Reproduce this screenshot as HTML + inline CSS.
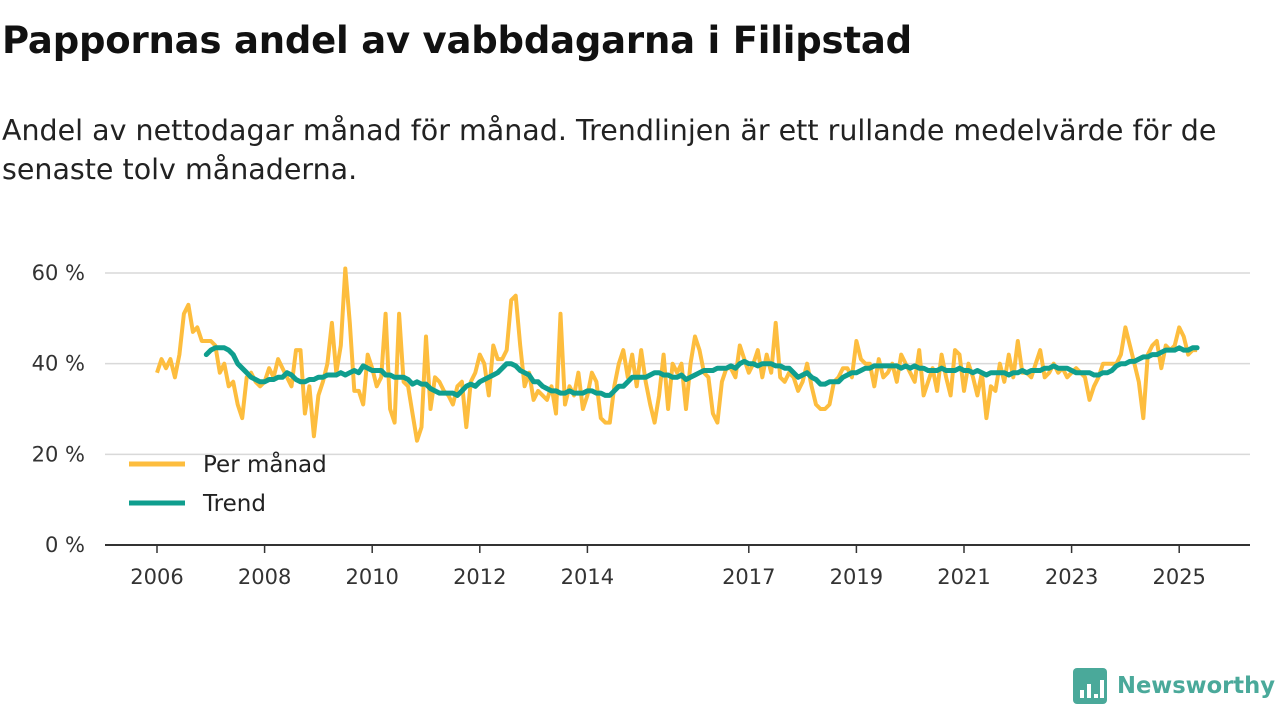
<!DOCTYPE html>
<html><head><meta charset="utf-8"><style>
body{margin:0;width:1280px;height:720px;background:#fff;font-family:"DejaVu Sans","Liberation Sans",sans-serif;overflow:hidden;position:relative;color:#111}
#title{position:absolute;left:2px;top:19px;font-size:37px;font-weight:bold;letter-spacing:-0.2px;white-space:nowrap}
#sub{position:absolute;left:2px;top:111px;font-size:28.5px;line-height:39px;color:#222;white-space:nowrap}
svg{position:absolute;left:0;top:0;font-family:"DejaVu Sans","Liberation Sans",sans-serif}
</style></head><body>
<div id="title">Pappornas andel av vabbdagarna i Filipstad</div>
<div id="sub">Andel av nettodagar månad för månad. Trendlinjen är ett rullande medelvärde för de<br>senaste tolv månaderna.</div>
<svg id="chart" width="1280" height="720"></svg>
<script>
const yTicks=[0,20,40,60];
const xTickYears=[2006,2008,2010,2012,2014,2017,2019,2021,2023,2025];
const monthly=[38,41,39,41,37,42,51,53,47,48,45,45,
45,44,38,40,35,36,31,28,37,38,36,35,
36,39,37,41,39,37,35,43,43,29,35,24,
33,36,40,49,38,44,61,49,34,34,31,42,
39,35,37,51,30,27,51,36,35,29,23,26,
46,30,37,36,34,33,31,35,36,26,36,38,
42,40,33,44,41,41,43,54,55,44,35,38,
32,34,33,32,35,29,51,31,35,33,38,30,
33,38,36,28,27,27,35,40,43,37,42,35,
43,36,31,27,33,42,30,40,38,40,30,40,
46,43,38,37,29,27,36,39,39,37,44,41,
38,40,43,37,42,38,49,37,36,38,37,34,
36,40,35,31,30,30,31,36,37,39,39,37,
45,41,40,40,35,41,37,38,40,36,42,40,
38,36,43,33,36,39,34,42,37,33,43,42,
34,40,37,33,38,28,35,34,40,36,42,37,
45,38,38,37,40,43,37,38,40,38,39,37,
38,39,38,37,32,35,37,40,40,40,40,42,
48,44,40,36,28,42,44,45,39,44,43,44,
48,46,42,43,43];
const trendStart=11;
const trend=[42,
43,43.5,43.5,43.5,43,42,40,39,38,37,36.5,36,
36,36.5,36.5,37,37,38,37.5,36.5,36,36,36.5,36.5,
37,37,37.5,37.5,37.5,38,37.5,38,38.5,38,39.5,39,
38.5,38.5,38.5,37.5,37.5,37,37,37,36.5,35.5,36,35.5,
35.5,34.5,34,33.5,33.5,33.5,33.5,33,34,35,35.5,35,
36,36.5,37,37.5,38,39,40,40,39.5,38.5,38,37.5,
36,36,35,34.5,34,34,33.5,33.5,34,33.5,33.5,33.5,
34,34,33.5,33.5,33,33,34,35,35,36,37,37,
37,37,37.5,38,38,37.5,37.5,37,37,37.5,36.5,37,
37.5,38,38.5,38.5,38.5,39,39,39,39.5,39,40,40.5,
40,40,39.5,40,40,40,39.5,39.5,39,39,38,37,
37.5,38,37,36.5,35.5,35.5,36,36,36,37,37.5,38,
38,38.5,39,39,39.5,39.5,39.5,39.5,39.5,39.5,39,39.5,
39,39.5,39,39,38.5,38.5,38.5,39,38.5,38.5,38.5,39,
38.5,38.5,38,38.5,38,37.5,38,38,38,38,37.5,38,
38,38.5,38,38.5,38.5,38.5,39,39,39.5,39,39,39,
38.5,38,38,38,38,37.5,37.5,38,38,38.5,39.5,40,
40,40.5,40.5,41,41.5,41.5,42,42,42.5,43,43,43,
43.5,43,43,43.5,43.5];
const NS='http://www.w3.org/2000/svg';
const svg=document.getElementById('chart');
const x0=157,pxYear=53.8,y0=545,pxPct=4.533;
function xm(i){return x0+i*pxYear/12;}
function xy(yr){return x0+(yr-2006)*pxYear;}
function yv(v){return y0-v*pxPct;}
function mk(tag,attrs){const e=document.createElementNS(NS,tag);for(const k in attrs)e.setAttribute(k,attrs[k]);svg.appendChild(e);return e;}
yTicks.forEach(t=>{
  if(t>0){const g=mk('line',{x1:105,x2:1250,y1:yv(t),y2:yv(t),stroke:'#d9d9d9','stroke-width':1.5});
  
  }
  const l=mk('text',{x:85,y:yv(t)+7,'text-anchor':'end','font-size':21,fill:'#333'});
  l.textContent=t+' %';
  
  
});
const ax=mk('line',{x1:105,x2:1250,y1:y0,y2:y0,stroke:'#333','stroke-width':2});


xTickYears.forEach(yr=>{
  const x=xy(yr);
  const tk=mk('line',{x1:x,x2:x,y1:y0,y2:y0+8,stroke:'#333','stroke-width':1.5});
  
  
  const t=mk('text',{x:x,y:584,'text-anchor':'middle','font-size':21,fill:'#333'});
  t.textContent=yr;
  
  
});
const mPts=monthly.map((v,i)=>xm(i).toFixed(1)+','+yv(v).toFixed(1)).join(' ');
const ml=mk('polyline',{points:mPts,fill:'none',stroke:'#fdbd3e','stroke-width':4,'stroke-linejoin':'round'});


const tPts=trend.map((v,i)=>xm(i+trendStart).toFixed(1)+','+yv(v).toFixed(1)).join(' ');
const tl=mk('polyline',{points:tPts,fill:'none',stroke:'#0f9e8e','stroke-width':5,'stroke-linejoin':'round','stroke-linecap':'round'});


[['Per månad','#fdbd3e',464],['Trend','#0f9e8e',503]].forEach(([n,c,y])=>{
  const s=mk('line',{x1:129,x2:185,y1:y,y2:y,stroke:c,'stroke-width':5});
  
  
  const t=mk('text',{x:203,y:y+8,'font-size':23,fill:'#222'});
  t.textContent=n;
  
  
});
const lg=mk('rect',{x:1073,y:668,width:34,height:36,rx:4,fill:'#4aa99a'});


[[1080,690,8],[1087,684,14],[1094,694,4],[1100,680,18]].forEach(([x,y,h])=>{
  const b=mk('rect',{x:x,y:y,width:4,height:h,fill:'#fff'});
  
  
});
const lt=mk('text',{x:1117,y:693,'font-size':23,'font-weight':'bold',fill:'#4aa99a',textLength:158,lengthAdjust:'spacingAndGlyphs'});
lt.textContent='Newsworthy';


</script>
</body></html>
